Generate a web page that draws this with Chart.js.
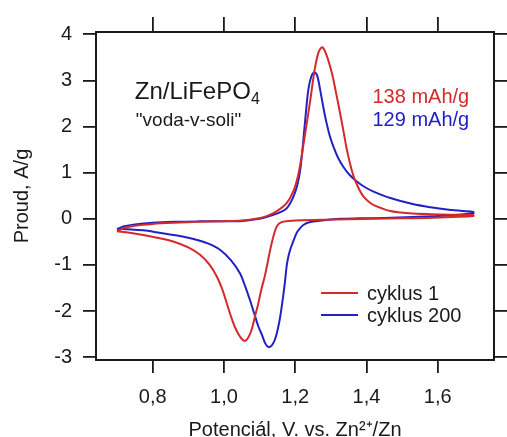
<!DOCTYPE html>
<html>
<head>
<meta charset="utf-8">
<script src="https://cdn.jsdelivr.net/npm/chart.js@4.4.1/dist/chart.umd.min.js"></script>
<style>
  html, body { margin: 0; padding: 0; background: #fff; }
  #wrap { width: 507px; height: 437px; }
</style>
</head>
<body>
<div id="wrap"><canvas id="cv" width="507" height="437"></canvas></div>
<script>
// cyklus 1 - anodic sweep 0.7 -> 1.7 V, then back to 0.7 V
const cycle1Potential = [
  0.70, 0.72, 0.75, 0.80, 0.86, 0.93, 1.00, 1.05, 1.09, 1.12, 1.148, 1.176, 1.195, 1.207, 1.217, 1.228,
  1.242, 1.255, 1.266, 1.276, 1.288, 1.303, 1.315, 1.326, 1.336, 1.345, 1.354, 1.364, 1.377, 1.392,
  1.41, 1.429, 1.467, 1.52, 1.58, 1.64, 1.70,
  1.70, 1.64, 1.57, 1.50, 1.42, 1.35, 1.28, 1.22, 1.19, 1.167, 1.155, 1.148, 1.143, 1.139, 1.133, 1.127,
  1.12, 1.113, 1.106, 1.096, 1.087, 1.078, 1.068, 1.059, 1.05, 1.041, 1.031, 1.02, 1.008, 0.995, 0.98,
  0.96, 0.933, 0.90, 0.858, 0.82, 0.774, 0.735, 0.70
];
const cycle1Current = [
  -0.27, -0.20, -0.15, -0.11, -0.085, -0.065, -0.05, -0.035, 0.0, 0.06, 0.16, 0.34, 0.60, 0.90, 1.30, 1.85,
  2.55, 3.25, 3.62, 3.72, 3.55, 3.16, 2.72, 2.29, 1.88, 1.50, 1.20, 0.92, 0.68, 0.48,
  0.35, 0.27, 0.17, 0.12, 0.10, 0.09, 0.085,
  0.06, 0.04, 0.02, 0.01, 0.0, -0.01, -0.02, -0.03, -0.04, -0.06, -0.10, -0.17, -0.27, -0.38, -0.56, -0.78,
  -1.05, -1.30, -1.50, -1.85, -2.12, -2.40, -2.58, -2.65, -2.60, -2.50, -2.35, -2.12, -1.83, -1.52, -1.25,
  -1.00, -0.78, -0.62, -0.49, -0.42, -0.35, -0.30, -0.27
];

// cyklus 200
const cycle200Potential = [
  0.70, 0.72, 0.75, 0.80, 0.86, 0.93, 1.00, 1.045, 1.09, 1.12, 1.139, 1.16, 1.175, 1.186, 1.196, 1.205,
  1.214, 1.223, 1.23, 1.237, 1.245, 1.254, 1.262, 1.27, 1.279, 1.288, 1.297, 1.307, 1.32, 1.335, 1.353,
  1.373, 1.395, 1.42, 1.467, 1.53, 1.58, 1.626, 1.67, 1.70,
  1.70, 1.66, 1.60, 1.53, 1.45, 1.38, 1.326, 1.28, 1.25, 1.233, 1.222, 1.214, 1.206, 1.20, 1.193, 1.186,
  1.18, 1.176, 1.171, 1.165, 1.158, 1.151, 1.144, 1.135, 1.125, 1.116, 1.107, 1.097, 1.085, 1.073, 1.06,
  1.045, 1.02, 0.989, 0.96, 0.93, 0.90, 0.858, 0.81, 0.774, 0.74, 0.70
];
const cycle200Current = [
  -0.22, -0.16, -0.12, -0.085, -0.065, -0.055, -0.05, -0.05, -0.01, 0.04, 0.087, 0.15, 0.22, 0.34, 0.50, 0.70,
  1.05, 1.71, 2.30, 2.80, 3.08, 3.18, 3.10, 2.80, 2.42, 2.08, 1.80, 1.57, 1.33, 1.13, 0.95,
  0.81, 0.69, 0.59, 0.45, 0.32, 0.25, 0.20, 0.17, 0.15,
  0.12, 0.09, 0.06, 0.04, 0.02, 0.01, 0.0, -0.03, -0.06, -0.09, -0.14, -0.20, -0.28, -0.38, -0.52, -0.67,
  -0.85, -1.03, -1.39, -1.75, -2.12, -2.40, -2.60, -2.74, -2.78, -2.70, -2.52, -2.34, -2.05, -1.76, -1.47,
  -1.18, -0.90, -0.67, -0.55, -0.47, -0.41, -0.35, -0.29, -0.25, -0.23, -0.22
];

const seriesLabels = ['cyklus 1', 'cyklus 200'];
const capacityLabels = ['138 mAh/g', '129 mAh/g'];
const colors = ['#d42a2a', '#2222c4'];

const FONT = "'Liberation Sans', Arial, sans-serif";
const INK = '#1a1a1a';

function toPoints(xs, ys) {
  return xs.map((x, i) => ({ x: x, y: ys[i] }));
}

// text inside the plot + legend
const annotations = {
  id: 'annotations',
  afterDatasetsDraw(chart) {
    const ctx = chart.ctx;
    const xs = chart.scales.x, ys = chart.scales.y;
    ctx.save();
    ctx.textBaseline = 'alphabetic';
    ctx.textAlign = 'left';
    ctx.fillStyle = INK;

    // Zn/LiFePO4
    let px = xs.getPixelForValue(0.75), py = ys.getPixelForValue(2.6);
    ctx.font = '24px ' + FONT;
    const main = 'Zn/LiFePO';
    ctx.fillText(main, px, py);
    const w = ctx.measureText(main).width;
    ctx.font = '16px ' + FONT;
    ctx.fillText('4', px + w, py + 5);

    ctx.font = '19px ' + FONT;
    ctx.fillText('"voda-v-soli"', px + 1, ys.getPixelForValue(2.02));

    // capacities
    ctx.font = '20px ' + FONT;
    capacityLabels.forEach((t, i) => {
      ctx.fillStyle = colors[i];
      ctx.fillText(t, xs.getPixelForValue(1.417), ys.getPixelForValue(i === 0 ? 2.52 : 2.02));
    });

    // legend
    const lx = 321, ly = [293, 315];
    ctx.font = '20px ' + FONT;
    ctx.textBaseline = 'middle';
    chart.data.datasets.forEach((ds, i) => {
      ctx.strokeStyle = ds.borderColor;
      ctx.lineWidth = 2;
      ctx.beginPath();
      ctx.moveTo(lx, ly[i]);
      ctx.lineTo(lx + 37, ly[i]);
      ctx.stroke();
      ctx.fillStyle = INK;
      ctx.fillText(ds.label, lx + 46, ly[i] + 1);
    });
    ctx.restore();
  }
};

const tickFont = { family: FONT, size: 20 };
const gridOpts = { drawOnChartArea: false, drawTicks: true, tickLength: 13, color: INK, lineWidth: 1.8 };
const borderOpts = { display: true, color: INK, width: 2 };

const xRange = { min: 0.641, max: 1.758 };
const yRange = { min: -3.06, max: 4.05 };

new Chart(document.getElementById('cv'), {
  type: 'scatter',
  data: {
    datasets: [
      {
        label: seriesLabels[0],
        data: toPoints(cycle1Potential, cycle1Current),
        borderColor: colors[0],
        showLine: true, borderWidth: 2, pointRadius: 0, tension: 0.3, fill: false
      },
      {
        label: seriesLabels[1],
        data: toPoints(cycle200Potential, cycle200Current),
        borderColor: colors[1],
        showLine: true, borderWidth: 2, pointRadius: 0, tension: 0.3, fill: false
      }
    ]
  },
  options: {
    responsive: false,
    animation: false,
    devicePixelRatio: 1,
    layout: { padding: 0 },
    plugins: { legend: { display: false }, tooltip: { enabled: false } },
    scales: {
      x: {
        type: 'linear', position: 'bottom', ...xRange,
        ticks: {
          stepSize: 0.2, includeBounds: false, font: tickFont, color: INK, padding: 12, maxRotation: 0,
          callback: v => v.toFixed(1).replace('.', ',')
        },
        grid: gridOpts, border: borderOpts,
        title: {
          display: true, text: 'Potenciál, V. vs. Zn²⁺/Zn', color: INK,
          font: { family: FONT, size: 20 }, padding: { top: 0, bottom: -5 }
        },
        afterFit: s => { s.height = 77; }
      },
      x2: {
        type: 'linear', position: 'top', ...xRange,
        ticks: { stepSize: 0.2, includeBounds: false, display: false },
        grid: { ...gridOpts, tickLength: 15 }, border: borderOpts,
        afterFit: s => { s.height = 32; }
      },
      y: {
        type: 'linear', position: 'left', ...yRange,
        ticks: { stepSize: 1, includeBounds: false, font: tickFont, color: INK, padding: 11 },
        grid: gridOpts, border: borderOpts,
        title: {
          display: true, text: 'Proud, A/g', color: INK,
          font: { family: FONT, size: 20 }, padding: { top: 10, bottom: 0 }
        },
        afterFit: s => { s.width = 96; }
      },
      y2: {
        type: 'linear', position: 'right', ...yRange,
        ticks: { stepSize: 1, includeBounds: false, display: false },
        grid: gridOpts, border: borderOpts,
        afterFit: s => { s.width = 13; }
      }
    }
  },
  plugins: [annotations]
});
</script>
</body>
</html>
